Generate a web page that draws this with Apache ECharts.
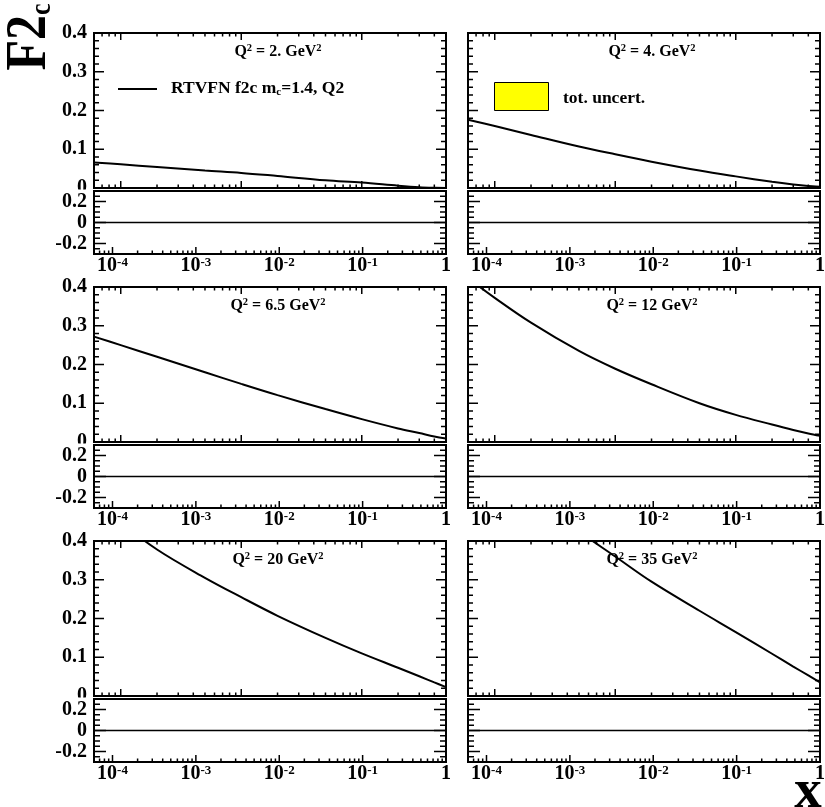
<!DOCTYPE html>
<html>
<head>
<meta charset="utf-8">
<script src="https://cdn.jsdelivr.net/npm/echarts@6/dist/echarts.min.js"></script>
<style>
html, body { margin: 0; padding: 0; background: #fff; }
#chart { width: 825px; height: 807px; }
</style>
</head>
<body>
<div id="chart"></div>
<script>
// ---- data -------------------------------------------------------------
// Q^2 of the six panels (GeV^2)
const q2Values = ['2.', '4.', '6.5', '12', '20', '35'];

// Bjorken-x points at which F2c is tabulated
const xGrid = [6e-4, 1e-3, 2e-3, 5e-3, 1e-2, 2e-2, 5e-2, 0.1, 0.2, 0.3, 0.4, 0.5];

// RTVFN F2c, m_c = 1.4 GeV, one array per Q^2
const f2cQ2_2   = [0.066, 0.061, 0.054, 0.045, 0.039, 0.031, 0.020, 0.014, 0.006, 0.002, 0.0005, 0.0];
const f2cQ2_4   = [0.176, 0.160, 0.137, 0.107, 0.087, 0.068, 0.045, 0.030, 0.016, 0.009, 0.005, 0.003];
const f2cQ2_6p5 = [0.272, 0.250, 0.220, 0.180, 0.150, 0.121, 0.085, 0.059, 0.035, 0.023, 0.014, 0.009];
const f2cQ2_12  = [0.423, 0.372, 0.308, 0.235, 0.189, 0.149, 0.100, 0.070, 0.045, 0.031, 0.022, 0.016];
const f2cQ2_20  = [0.520, 0.450, 0.378, 0.305, 0.255, 0.207, 0.150, 0.110, 0.073, 0.051, 0.035, 0.023];
const f2cQ2_35  = [0.660, 0.600, 0.520, 0.425, 0.360, 0.295, 0.220, 0.165, 0.109, 0.076, 0.053, 0.035];
const panelCurves = [f2cQ2_2, f2cQ2_4, f2cQ2_6p5, f2cQ2_12, f2cQ2_20, f2cQ2_35];

// ratio pads: relative deviation, flat at zero
const ratioX = [6e-5, 1];
const ratioVals = [0, 0];

// axis ranges and tick values
const mainXRange = [6e-4, 0.5];
const ratioXRange = [6e-5, 1];
const mainYRange = [0, 0.4];
const ratioYRange = [-0.3, 0.3];
const mantissas = [2, 3, 4, 5, 6, 7, 8, 9];
const mainXMajor = [1e-3, 1e-2, 1e-1];
const mainXMinor = [7e-4, 8e-4, 9e-4]
  .concat(mantissas.map(m => m * 1e-3), mantissas.map(m => m * 1e-2), [0.2, 0.3, 0.4]);
const ratioXMajor = [1e-4, 1e-3, 1e-2, 1e-1, 1];
const ratioXMinor = [7e-5, 8e-5, 9e-5]
  .concat(mantissas.map(m => m * 1e-4), mantissas.map(m => m * 1e-3),
          mantissas.map(m => m * 1e-2), mantissas.map(m => m * 1e-1));
const mainYMajor = [0, 0.1, 0.2, 0.3, 0.4];
const mainYMinor = [0.02, 0.04, 0.06, 0.08, 0.12, 0.14, 0.16, 0.18, 0.22, 0.24, 0.26, 0.28, 0.32, 0.34, 0.36, 0.38];
const ratioYMajor = [-0.2, 0, 0.2];
const ratioYMinor = [-0.25, -0.15, -0.1, -0.05, 0.05, 0.1, 0.15, 0.25];

// ---- layout -----------------------------------------------------------
const FONT = '"Liberation Serif", "Times New Roman", Times, serif';
const colLeft = [94, 468];
const rowTop = [33, 287, 541];
const PW = 352, MH = 155, RATIO_OFF = 158, RH = 63;

const grids = [], xAxes = [], yAxes = [], series = [], graphics = [];

function tickData(xr, yr, xMaj, xMin, yMaj, yMin, lens, topTicks) {
  // [x, y, length, side]; side 0 bottom, 1 top, 2 left, 3 right
  const d = [];
  xMaj.forEach(v => { d.push([v, yr[0], lens.xMaj, 0]); if (topTicks) d.push([v, yr[1], lens.xMaj, 1]); });
  xMin.forEach(v => { d.push([v, yr[0], lens.xMin, 0]); if (topTicks) d.push([v, yr[1], lens.xMin, 1]); });
  yMaj.forEach(v => { d.push([xr[0], v, lens.yMaj, 2]); d.push([xr[1], v, lens.yMaj, 3]); });
  yMin.forEach(v => { d.push([xr[0], v, lens.yMin, 2]); d.push([xr[1], v, lens.yMin, 3]); });
  return d;
}

function renderTick(params, api) {
  const p = api.coord([api.value(0), api.value(1)]);
  const len = api.value(2), side = api.value(3);
  let x1 = p[0], y1 = p[1], x2 = x1, y2 = y1;
  if (side === 0) y2 = y1 - len;
  else if (side === 1) y2 = y1 + len;
  else if (side === 2) x2 = x1 + len;
  else x2 = x1 - len;
  return { type: 'line', shape: { x1, y1, x2, y2 }, style: { stroke: '#000', lineWidth: 1.5 } };
}

function xLabel(v) {
  const l = Math.log10(v), e = Math.round(l);
  if (Math.abs(l - e) > 1e-6) return '';
  return e === 0 ? '{b|1}' : '{b|10}{s|' + e + '}';
}

const gridBase = { show: true, borderColor: '#000', borderWidth: 2, backgroundColor: 'transparent',
                   containLabel: false, outerBoundsMode: 'none' };

for (let p = 0; p < 6; p++) {
  const row = Math.floor(p / 2), col = p % 2;
  const gm = 2 * p, gr = 2 * p + 1;
  const left = colLeft[col], top = rowTop[row];

  grids.push(Object.assign({ left, top, width: PW, height: MH }, gridBase));
  grids.push(Object.assign({ left, top: top + RATIO_OFF, width: PW, height: RH }, gridBase));

  // main pad axes
  xAxes.push({ gridIndex: gm, type: 'log', logBase: 10, min: mainXRange[0], max: mainXRange[1],
    axisLine: { show: false }, axisTick: { show: false }, axisLabel: { show: false },
    splitLine: { show: false } });
  yAxes.push({ gridIndex: gm, type: 'value', min: mainYRange[0], max: mainYRange[1], interval: 0.1, z: 1,
    axisLine: { show: false }, axisTick: { show: false }, splitLine: { show: false },
    axisLabel: { show: col === 0, margin: 7, color: '#000', fontFamily: FONT, fontWeight: 'bold', fontSize: 20,
      formatter: v => (Math.abs(v) < 1e-9 ? '0' : v.toFixed(1)) } });

  // ratio pad axes
  xAxes.push({ gridIndex: gr, type: 'log', logBase: 10, min: ratioXRange[0], max: ratioXRange[1], z: 10,
    axisLine: { show: false }, axisTick: { show: false }, splitLine: { show: false },
    axisLabel: { show: true, margin: 2, formatter: xLabel,
      rich: {
        b: { fontFamily: FONT, fontWeight: 'bold', fontSize: 20, color: '#000', lineHeight: 20 },
        s: { fontFamily: FONT, fontWeight: 'bold', fontSize: 13, color: '#000', lineHeight: 13, verticalAlign: 'top' }
      } } });
  yAxes.push({ gridIndex: gr, type: 'value', min: ratioYRange[0], max: ratioYRange[1], interval: 0.1, z: 10,
    axisLine: { show: false }, axisTick: { show: false }, splitLine: { show: false },
    axisLabel: { show: col === 0, margin: 7, color: '#000', fontFamily: FONT, fontWeight: 'bold', fontSize: 20,
      formatter: v => { const r = Math.round(v * 10); return r === 2 ? '0.2' : r === 0 ? '0' : r === -2 ? '-0.2' : ''; } } });

  // F2c curve
  series.push({ type: 'line', name: 'RTVFN f2c m_c=1.4, Q2', xAxisIndex: gm, yAxisIndex: gm,
    data: xGrid.map((x, i) => [x, panelCurves[p][i]]),
    symbol: 'none', showSymbol: false, smooth: 0.35, clip: true, z: 4,
    lineStyle: { color: '#000', width: 2 }, silent: true });

  // ratio line
  series.push({ type: 'line', xAxisIndex: gr, yAxisIndex: gr,
    data: ratioX.map((x, i) => [x, ratioVals[i]]),
    symbol: 'none', showSymbol: false, clip: true, z: 4,
    lineStyle: { color: '#000', width: 1.5 }, silent: true });

  // tick marks
  series.push({ type: 'custom', xAxisIndex: gm, yAxisIndex: gm, silent: true, z: 5, renderItem: renderTick,
    data: tickData(mainXRange, mainYRange, mainXMajor, mainXMinor, mainYMajor, mainYMinor,
                   { xMaj: 7, xMin: 3.5, yMaj: 10, yMin: 5 }, true) });
  series.push({ type: 'custom', xAxisIndex: gr, yAxisIndex: gr, silent: true, z: 5, renderItem: renderTick,
    data: tickData(ratioXRange, ratioYRange, ratioXMajor, ratioXMinor, ratioYMajor, ratioYMinor,
                   { xMaj: 7, xMin: 3.5, yMaj: 12, yMin: 6 }, false) });

  // Q^2 label
  graphics.push({ type: 'text', x: left + 184, y: top + 19, z: 20, silent: true,
    style: { text: '{t|Q}{u|2}{t| = ' + q2Values[p] + ' GeV}{u|2}', align: 'center', verticalAlign: 'middle',
      rich: {
        t: { fontFamily: FONT, fontWeight: 'bold', fontSize: 16, lineHeight: 18, fill: '#000', color: '#000' },
        u: { fontFamily: FONT, fontWeight: 'bold', fontSize: 10.5, lineHeight: 10, fill: '#000', color: '#000', verticalAlign: 'top' }
      } } });

  // the ratio pad hides the lower part of the main pad's "0" label
  if (col === 0) {
    graphics.push({ type: 'rect', z: 5, silent: true,
      shape: { x: 40, y: top + 156.5, width: 52, height: 12 }, style: { fill: '#fff' } });
  }
}

// legends
graphics.push({ type: 'line', z: 20, silent: true, shape: { x1: 118, y1: 89, x2: 157, y2: 89 },
  style: { stroke: '#000', lineWidth: 2 } });
graphics.push({ type: 'text', x: 171, y: 88, z: 20, silent: true,
  style: { text: '{t|RTVFN f2c m}{d|c}{t|=1.4, Q2}', align: 'left', verticalAlign: 'middle',
    rich: {
      t: { fontFamily: FONT, fontWeight: 'bold', fontSize: 17.5, lineHeight: 20, fill: '#000', color: '#000' },
      d: { fontFamily: FONT, fontWeight: 'bold', fontSize: 11, lineHeight: 11, fill: '#000', color: '#000', verticalAlign: 'bottom' }
    } } });
graphics.push({ type: 'rect', z: 20, silent: true, shape: { x: 494.5, y: 82.5, width: 54, height: 28 },
  style: { fill: '#ffff00', stroke: '#000', lineWidth: 1 } });
graphics.push({ type: 'text', x: 563, y: 98, z: 20, silent: true,
  style: { text: 'tot. uncert.', align: 'left', verticalAlign: 'middle',
    font: 'bold 17.5px ' + FONT, fill: '#000' } });

// axis titles
graphics.push({ type: 'text', x: 30, y: 37, rotation: Math.PI / 2, scaleY: 1.15, z: 20, silent: true,
  style: { text: '{a|F2}{c|c}', align: 'center', verticalAlign: 'middle',
    rich: {
      a: { fontFamily: FONT, fontWeight: 'bold', fontSize: 50, lineHeight: 48, fill: '#000', color: '#000' },
      c: { fontFamily: FONT, fontWeight: 'bold', fontSize: 26, lineHeight: 26, fill: '#000', color: '#000', verticalAlign: 'bottom' }
    } } });
graphics.push({ type: 'text', x: 808, y: 820, z: 20, silent: true,
  style: { text: 'x', align: 'center', verticalAlign: 'bottom', font: 'bold 55px ' + FONT, fill: '#000' } });

const chart = echarts.init(document.getElementById('chart'), null, { renderer: 'canvas' });
chart.setOption({
  animation: false,
  backgroundColor: '#fff',
  grid: grids,
  xAxis: xAxes,
  yAxis: yAxes,
  series: series,
  graphic: { elements: graphics }
});
</script>
</body>
</html>
